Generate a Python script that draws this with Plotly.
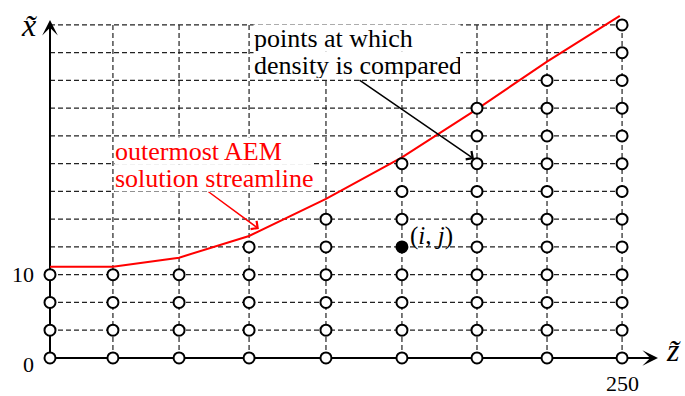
import plotly.graph_objects as go

# ---- data ----
z_cols = [0, 27.5, 56.4, 87.0, 120.6, 153.8, 186.6, 217.2, 250]   # grid columns (z~)
row_step = 10 / 3                                                  # x~ spacing between rows
top_row = 12                                                       # highest grid row index
col_top_row = [3, 3, 3, 4, 5, 7, 9, 10, 12]                        # highest compared point per column
highlight_col = 5
highlight_row = 4

stream_z = [0, 27.5, 56.4, 87.0, 120.6, 153.8, 186.6, 217.2, 249]
stream_x = [10.97, 10.97, 12.05, 14.65, 19.1, 24.1, 29.9, 35.6, 41.1]

x_tick_vals = [250]
x_tick_text = ["250"]
y_tick_vals = [0, 10]
y_tick_text = ["0", "10"]

points_label = ["points at which", "density is compared"]
stream_label = ["outermost AEM", "solution streamline"]

SERIF = "Liberation Serif, DejaVu Serif, serif"

fig = go.Figure()

# dashed grid
hx, hy = [], []
for j in range(1, top_row + 1):
    hx += [z_cols[0], z_cols[-1], None]
    hy += [j * row_step, j * row_step, None]
vx, vy = [], []
for c in z_cols[1:]:
    vx += [c, c, None]
    vy += [0, top_row * row_step, None]
grid_line = dict(color="#222222", width=1.2, dash="5px,3px")
fig.add_trace(go.Scatter(x=hx, y=hy, mode="lines", line=grid_line, hoverinfo="skip"))
fig.add_trace(go.Scatter(x=vx, y=vy, mode="lines", line=grid_line, hoverinfo="skip"))

# solid axes
fig.add_trace(go.Scatter(x=[0, 262], y=[0, 0], mode="lines",
                         line=dict(color="black", width=2), hoverinfo="skip"))
fig.add_trace(go.Scatter(x=[0, 0], y=[0, 39.5], mode="lines",
                         line=dict(color="black", width=2), hoverinfo="skip"))

# streamline
fig.add_trace(go.Scatter(x=stream_z, y=stream_x, mode="lines",
                         line=dict(color="red", width=2), hoverinfo="skip"))

# compared points
pz, px = [], []
for ci, c in enumerate(z_cols):
    for j in range(col_top_row[ci] + 1):
        if ci == highlight_col and j == highlight_row:
            continue
        pz.append(c)
        px.append(j * row_step)
fig.add_trace(go.Scatter(x=pz, y=px, mode="markers",
                         marker=dict(size=11, color="white", line=dict(color="black", width=2)),
                         hoverinfo="skip"))
fig.add_trace(go.Scatter(x=[z_cols[highlight_col]], y=[highlight_row * row_step], mode="markers",
                         marker=dict(size=11, color="black", line=dict(color="black", width=2)),
                         hoverinfo="skip"))

ann = []
# axis arrowheads
ann.append(dict(x=265.7, y=0, ax=256, ay=0, xref="x", yref="y", axref="x", ayref="y",
                text="", showarrow=True, arrowhead=3, arrowsize=1.3, arrowwidth=2,
                arrowcolor="black", standoff=0))
ann.append(dict(x=0, y=40.6, ax=0, ay=37, xref="x", yref="y", axref="x", ayref="y",
                text="", showarrow=True, arrowhead=3, arrowsize=1.3, arrowwidth=2,
                arrowcolor="black", standoff=0))

# pointer arrows
ann.append(dict(x=185.3, y=23.9, ax=134.6, ay=33.5, xref="x", yref="y", axref="x", ayref="y",
                text="", showarrow=True, arrowhead=4, arrowsize=1.3, arrowwidth=1.5,
                arrowcolor="black", standoff=0))
ann.append(dict(x=91.3, y=15.5, ax=68.6, ay=20.1, xref="x", yref="y", axref="x", ayref="y",
                text="", showarrow=True, arrowhead=4, arrowsize=1.3, arrowwidth=1.5,
                arrowcolor="red", standoff=0))

# text labels (white boxes hide the grid behind them)
for txt, yc in zip(points_label, [38.45, 35.25]):
    ann.append(dict(x=88.7, y=yc, xref="x", yref="y", xanchor="left", yanchor="middle",
                    align="left", valign="middle", width=206, height=26, borderpad=0,
                    text=txt, showarrow=False, bgcolor="white",
                    font=dict(family=SERIF, size=26, color="black")))
for txt, yc in zip(stream_label, [24.86, 21.62]):
    ann.append(dict(x=27.97, y=yc, xref="x", yref="y", xanchor="left", yanchor="middle",
                    align="left", valign="middle", width=198, height=26, borderpad=0,
                    text=txt, showarrow=False, bgcolor="white",
                    font=dict(family=SERIF, size=26, color="red")))
ann.append(dict(x=156.5, y=14.65, xref="x", yref="y", xanchor="left", yanchor="middle",
                text="(<i>i</i>, <i>j</i>)", showarrow=False,
                font=dict(family=SERIF, size=25, color="black")))

# tick labels
for v, t in zip(y_tick_vals, y_tick_text):
    ann.append(dict(x=-6, y=v, xref="x", yref="y", xanchor="right", yanchor="middle",
                    text=t, showarrow=False, yshift=-7 if v == 0 else 0,
                    font=dict(family=SERIF, size=22, color="black")))
for v, t in zip(x_tick_vals, x_tick_text):
    ann.append(dict(x=v, y=-1.3, xref="x", yref="y", xanchor="center", yanchor="top",
                    text=t, showarrow=False,
                    font=dict(family=SERIF, size=22, color="black")))

# axis names
ann.append(dict(x=-9.2, y=40.0, xref="x", yref="y", xanchor="center", yanchor="middle",
                text="<i>x\u0303</i>", showarrow=False,
                font=dict(family=SERIF, size=32, color="black")))
ann.append(dict(x=272.5, y=0.9, xref="x", yref="y", xanchor="center", yanchor="middle",
                text="<i>z\u0303</i>", showarrow=False,
                font=dict(family=SERIF, size=32, color="black")))

fig.update_layout(
    width=685, height=396,
    margin=dict(l=0, r=0, t=0, b=0),
    paper_bgcolor="white", plot_bgcolor="white",
    showlegend=False,
    xaxis=dict(range=[-21.85, 277.5], visible=False, fixedrange=True),
    yaxis=dict(range=[-4.57, 43.0], visible=False, fixedrange=True),
    annotations=ann,
)

fig.write_html("out.html")
